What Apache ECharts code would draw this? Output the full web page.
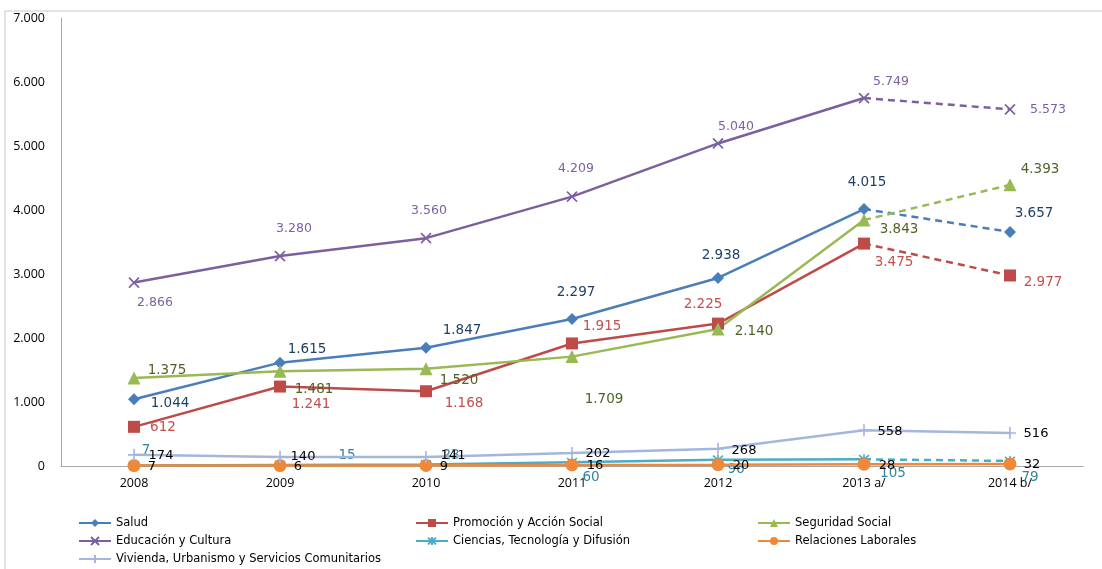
<!DOCTYPE html>
<html>
<head>
<meta charset="utf-8">
<script src="https://cdn.jsdelivr.net/npm/echarts@6/dist/echarts.min.js"></script>
<style>
  html, body { margin: 0; padding: 0; background: #fff; }
  #chart { width: 1102px; height: 569px; }
</style>
</head>
<body>
<div id="chart"></div>
<script>
// Categories and values (millions), one array per series
const years = ['2008', '2009', '2010', '2011', '2012', '2013 a/', '2014 b/'];
const salud      = [1044, 1615, 1847, 2297, 2938, 4015, 3657];
const promocion  = [612, 1241, 1168, 1915, 2225, 3475, 2977];
const seguridad  = [1375, 1481, 1520, 1709, 2140, 3843, 4393];
const educacion  = [2866, 3280, 3560, 4209, 5040, 5749, 5573];
const ciencias   = [7, 15, 23, 60, 96, 105, 79];
const relaciones = [7, 6, 9, 16, 20, 28, 32];
const vivienda   = [174, 140, 141, 202, 268, 558, 516];
const yTicks = [0, 1000, 2000, 3000, 4000, 5000, 6000, 7000];

// Label placement: offset of each label's centre from its point, in px
const labelOffsets = {
  salud:      [[36, 4], [27, -13], [36, -17], [4, -26], [3, -22], [3, -27], [24, -18]],
  promocion:  [[29, 1], [31, 18], [38, 12], [30, -17], [-15, -19], [30, 19], [33, 7]],
  seguridad:  [[33, -8], [34, 18], [33, 12], [32, 43], [36, 2], [35, 9], [30, -15]],
  educacion:  [[21, 20], [14, -27], [3, -27], [4, -28], [18, -17], [27, -16], [38, 0]],
  ciencias:   [[12, -15], [67, -10], [25, -9], [19, 15], [18, 10], [29, 14], [20, 17]],
  relaciones: [[18, 1], [18, 1], [18, 1], [23, 1], [23, 1], [23, 1], [22, 1]],
  vivienda:   [[27, 1], [23, 0], [27, -1], [26, 1], [26, 2], [26, 1], [26, 1]]
};

const fmt = v => String(v).replace(/\B(?=(\d{3})+(?!\d))/g, '.');

const SYM_X = 'path://M0,0L10,10M10,0L0,10';
const SYM_PLUS = 'path://M5,0L5,10M0,5L10,5';
const SYM_STAR = 'path://M0,0L10,10M10,0L0,10M5,-1L5,11';

const LABEL_FONT = 'DejaVu Sans, Verdana, sans-serif';

function labelStyle(color, size) {
  return {
    show: true,
    position: 'inside',
    align: 'center',
    verticalAlign: 'middle',
    color: color,
    fontFamily: LABEL_FONT,
    fontSize: size,
    formatter: p => fmt(p.value)
  };
}

// Builds a series whose last segment (2013 -> 2014) can be drawn dashed
function buildSeries(cfg) {
  const out = [];
  const n = cfg.values.length;
  const solidCount = cfg.dashedLast ? n - 1 : n;
  const common = {
    type: 'line',
    symbol: cfg.symbol,
    symbolSize: cfg.symbolSize,
    showAllSymbol: true,
    z: cfg.z,
    itemStyle: { color: cfg.color, borderColor: cfg.color, borderWidth: cfg.strokeSymbol ? 1.6 : 0 },
    lineStyle: { color: cfg.color, width: cfg.lineWidth || 2.5 },
    label: labelStyle(cfg.labelColor, cfg.labelSize || 13.5),
    emphasis: { disabled: true },
    animation: false
  };
  out.push(Object.assign({}, common, {
    name: cfg.name,
    data: cfg.values.map((v, i) => i < solidCount
      ? { value: v, label: { offset: cfg.offsets[i] } }
      : '-')
  }));
  if (cfg.dashedLast) {
    out.push(Object.assign({}, common, {
      name: cfg.name + ' (proyección)',
      lineStyle: { color: cfg.color, width: cfg.lineWidth || 2.5, type: [7, 5] },
      data: cfg.values.map((v, i) => {
        if (i < n - 2) return '-';
        if (i === n - 2) return { value: v, symbol: 'none', label: { show: false } };
        return { value: v, label: { offset: cfg.offsets[i] } };
      })
    }));
  }
  return out;
}

const series = [].concat(
  buildSeries({ name: 'Salud', values: salud, color: '#4A7EBB', labelColor: '#1F3F66',
    symbol: 'diamond', symbolSize: 12, offsets: labelOffsets.salud, dashedLast: true, z: 3 }),
  buildSeries({ name: 'Promoción y Acción Social', values: promocion, color: '#BE4B48', labelColor: '#C0504D',
    symbol: 'rect', symbolSize: 12, offsets: labelOffsets.promocion, dashedLast: true, z: 3 }),
  buildSeries({ name: 'Seguridad Social', values: seguridad, color: '#98B954', labelColor: '#4F6228',
    symbol: 'triangle', symbolSize: 13, offsets: labelOffsets.seguridad, dashedLast: true, z: 3 }),
  buildSeries({ name: 'Educación y Cultura', values: educacion, color: '#7D5FA0', labelColor: '#7D60A0',
    symbol: SYM_X, symbolSize: 10, strokeSymbol: true, offsets: labelOffsets.educacion, dashedLast: true, z: 3, labelSize: 12.5 }),
  buildSeries({ name: 'Ciencias, Tecnología y Difusión', values: ciencias, color: '#4BACC6', labelColor: '#31859C',
    symbol: SYM_STAR, symbolSize: 10, strokeSymbol: true, offsets: labelOffsets.ciencias, dashedLast: true, z: 3 }),
  buildSeries({ name: 'Relaciones Laborales', values: relaciones, color: '#F0883A', labelColor: '#000000',
    symbol: 'circle', symbolSize: 13, offsets: labelOffsets.relaciones, dashedLast: false, z: 4, labelSize: 13 }),
  buildSeries({ name: 'Vivienda, Urbanismo y Servicios Comunitarios', values: vivienda, color: '#A3B6DE', labelColor: '#000000',
    symbol: SYM_PLUS, symbolSize: 12, strokeSymbol: true, offsets: labelOffsets.vivienda, dashedLast: false, z: 5, labelSize: 13 })
);

// One legend entry per component so each sits on its own row/column slot
const legendText = { fontFamily: LABEL_FONT, fontSize: 11.5, color: '#000' };
function legendItem(left, top, name) {
  return {
    orient: 'horizontal', left: left, top: top, padding: 0,
    itemWidth: 32, itemHeight: 10, itemGap: 0,
    textStyle: legendText, data: [name],
    selectedMode: false
  };
}

const chart = echarts.init(document.getElementById('chart'), null, { renderer: 'canvas' });
chart.setOption({
  backgroundColor: '#fff',
  animation: false,
  grid: { left: 61, right: 19, top: 18, bottom: 103, containLabel: false },
  graphic: [{
    type: 'rect', silent: true, z: -10,
    shape: { x: 5, y: 11, width: 1200, height: 700 },
    style: { fill: 'none', stroke: '#C8C8C8', lineWidth: 1 }
  }],
  legend: [
    legendItem(78, 517, 'Salud'),
    legendItem(415, 517, 'Promoción y Acción Social'),
    legendItem(757, 517, 'Seguridad Social'),
    legendItem(78, 535, 'Educación y Cultura'),
    legendItem(415, 535, 'Ciencias, Tecnología y Difusión'),
    legendItem(757, 535, 'Relaciones Laborales'),
    legendItem(78, 553, 'Vivienda, Urbanismo y Servicios Comunitarios')
  ],
  xAxis: {
    type: 'category',
    data: years,
    boundaryGap: true,
    axisLine: { lineStyle: { color: '#A6A6A6', width: 1 } },
    axisTick: { show: false },
    axisLabel: { color: '#000', fontFamily: 'Open Sans, sans-serif', fontSize: 12.5, margin: 11 }
  },
  yAxis: {
    type: 'value',
    min: yTicks[0],
    max: yTicks[yTicks.length - 1],
    interval: yTicks[1] - yTicks[0],
    axisLine: { show: true, lineStyle: { color: '#A6A6A6', width: 1 } },
    axisTick: { show: false },
    splitLine: { show: false },
    axisLabel: { color: '#000', fontFamily: 'Open Sans, sans-serif', fontSize: 12.5, margin: 16,
      formatter: v => fmt(v) }
  },
  series: series
});
</script>
</body>
</html>
